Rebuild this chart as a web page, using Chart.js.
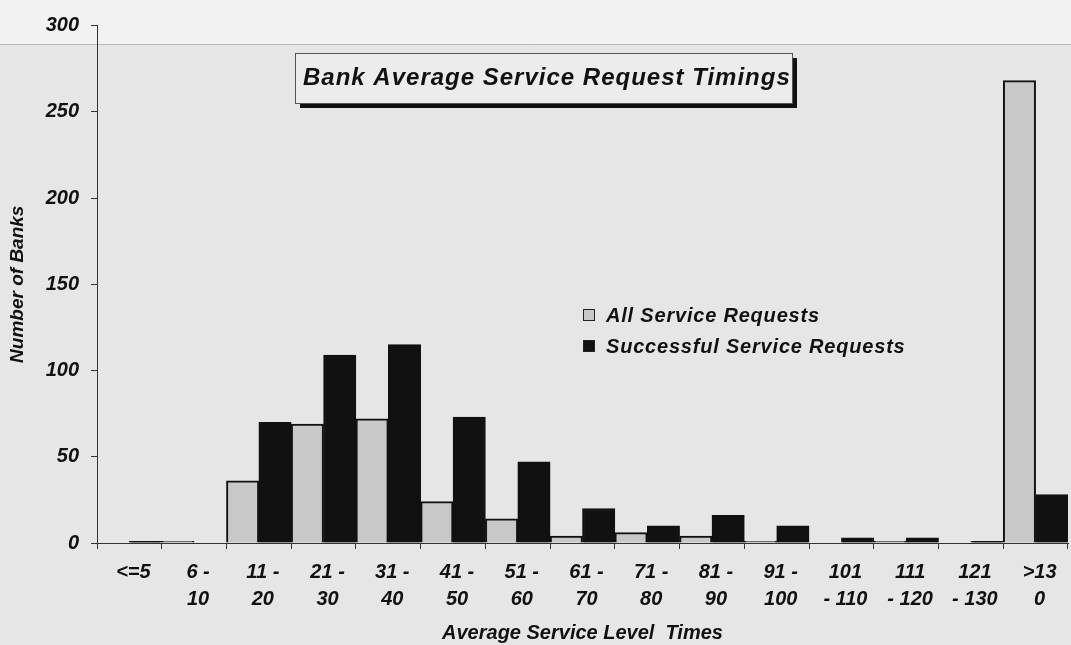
<!DOCTYPE html>
<html>
<head>
<meta charset="utf-8">
<script src="https://cdn.jsdelivr.net/npm/chart.js@4.4.1/dist/chart.umd.min.js"></script>
<style>
html, body { margin: 0; padding: 0; background: #e8e8e8; }
</style>
</head>
<body>
<canvas id="chart" width="1071" height="645"></canvas>
<script>
// categories (multi-line tick labels as in the scan)
const categories = [
    ["<=5"], ["6 -", "10"], ["11 -", "20"], ["21 -", "30"], ["31 -", "40"],
    ["41 -", "50"], ["51 -", "60"], ["61 -", "70"], ["71 -", "80"], ["81 -", "90"],
    ["91 -", "100"], ["101", "- 110"], ["111", "- 120"], ["121", "- 130"], [">13", "0"]
]
const allRequests = [0, 1, 36, 69, 72, 24, 14, 4, 6, 4, 1, 0, 1, 0, 268]
const successfulRequests = [1, 0, 70, 109, 115, 73, 47, 20, 10, 16, 10, 3, 3, 1, 28]
const seriesNames = ["All Service Requests", "Successful Service Requests"]
const yMax = 300
const yStep = 50
const chartTitle = "Bank Average Service Request Timings"
const xTitle = "Average Service Level  Times"
const yTitle = "Number of Banks"

const FONT = "'Liberation Sans', Arial, sans-serif"
const GRAY = '#c8c8c8'
const BLACK = '#111111'

// scanned paper background
const paper = {
    id: 'paper',
    beforeDraw(chart) {
        const c = chart.ctx
        c.save()
        c.fillStyle = '#e6e6e6'
        c.fillRect(0, 0, chart.width, chart.height)
        c.fillStyle = '#f2f2f2'
        c.fillRect(0, 0, chart.width, 44)
        c.strokeStyle = '#b8b8b8'
        c.lineWidth = 1
        c.beginPath()
        c.moveTo(0, 44.5)
        c.lineTo(chart.width, 44.5)
        c.stroke()
        c.restore()
    }
}

// boxed title with drop shadow + legend, both inside the plot area
const overlay = {
    id: 'overlay',
    afterDraw(chart) {
        const c = chart.ctx
        c.save()
        // title box
        const bx = 295, by = 53, bw = 497, bh = 50
        c.fillStyle = BLACK
        c.fillRect(bx + 5, by + bh, bw, 5)
        c.fillRect(bx + bw, by + 5, 5, bh)
        c.fillStyle = '#ececec'
        c.fillRect(bx, by, bw, bh)
        c.strokeStyle = '#555'
        c.lineWidth = 1
        c.strokeRect(bx + 0.5, by + 0.5, bw, bh)
        c.fillStyle = BLACK
        c.font = "italic bold 24px " + FONT
        c.letterSpacing = '1px'
        c.textBaseline = 'alphabetic'
        c.textAlign = 'left'
        c.fillText(chartTitle, bx + 8, by + 32)

        // legend
        c.font = "italic bold 20px " + FONT
        c.letterSpacing = '0.8px'
        c.textBaseline = 'middle'
        chart.data.datasets.forEach((ds, i) => {
            const y = 315 + i * 31
            c.fillStyle = ds.backgroundColor
            c.fillRect(583, y - 6, 12, 12)
            c.strokeStyle = '#222'
            c.strokeRect(583.5, y - 5.5, 11, 11)
            c.fillStyle = BLACK
            c.fillText(ds.label, 606, y + 1)
        })
        c.restore()
    }
}

const tickFont = { family: FONT, size: 20, style: 'italic', weight: 'bold', lineHeight: 1.35 }

new Chart(document.getElementById('chart'), {
    type: 'bar',
    data: {
        labels: categories,
        datasets: [
            { label: seriesNames[0], data: allRequests, backgroundColor: GRAY, borderColor: BLACK, borderWidth: 2 },
            { label: seriesNames[1], data: successfulRequests, backgroundColor: BLACK, borderColor: BLACK, borderWidth: 2 }
        ]
    },
    options: {
        responsive: false,
        animation: false,
        layout: { padding: { top: 18, right: 3, left: 0, bottom: 0 } },
        datasets: { bar: { categoryPercentage: 1, barPercentage: 1 } },
        plugins: {
            legend: { display: false },
            title: { display: false },
            tooltip: { enabled: false }
        },
        scales: {
            x: {
                offset: true,
                grid: { display: true, drawOnChartArea: false, offset: true, color: '#333', tickLength: 6 },
                border: { color: '#333', width: 1 },
                ticks: { color: BLACK, font: tickFont, padding: 10, labelOffset: 4, maxRotation: 0, autoSkip: false },
                title: { display: true, text: xTitle, color: BLACK, font: { family: FONT, size: 20, style: 'italic', weight: 'bold' }, padding: { top: 0, bottom: 0 } },
                afterFit: s => { s.height = 102 }
            },
            y: {
                min: 0, max: yMax,
                grid: { display: true, drawOnChartArea: false, color: '#333', tickLength: 6 },
                border: { color: '#333', width: 1 },
                ticks: { stepSize: yStep, color: BLACK, font: tickFont, padding: 12 },
                title: { display: true, text: yTitle, color: BLACK, font: { family: FONT, size: 19, style: 'italic', weight: 'bold' }, padding: { top: 6, bottom: 0 } },
                afterFit: s => { s.width = 97 }
            }
        }
    },
    plugins: [paper, overlay]
})
</script>
</body>
</html>
